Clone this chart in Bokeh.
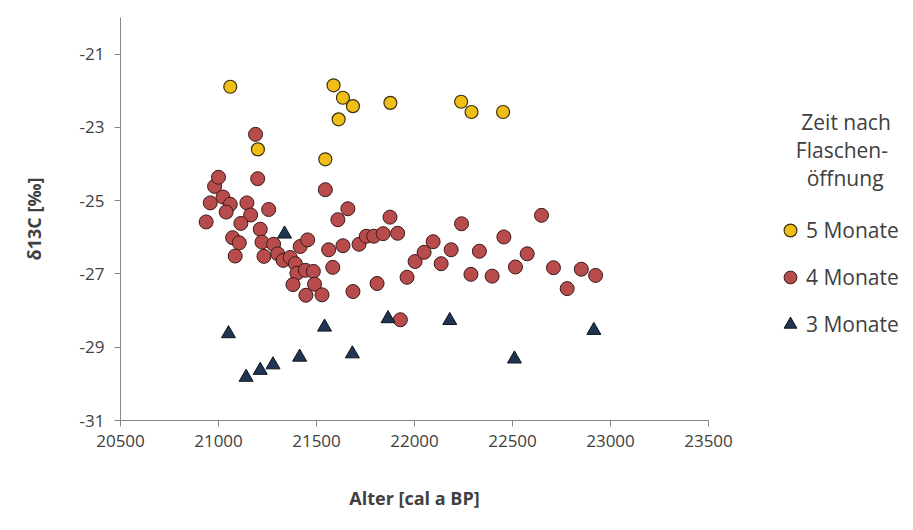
from bokeh.plotting import figure
from bokeh.models import Range1d, Legend, LegendItem, FixedTicker
from bokeh.embed import file_html
from bokeh.resources import INLINE

# ---- data ----
x_ticks = [20500, 21000, 21500, 22000, 22500, 23000, 23500]
y_ticks = [-31, -29, -27, -25, -23, -21]

m5_age = [21060, 21587, 21635, 21686, 21613, 21877, 21201, 21545, 22238, 22291, 22452]
m5_d13c = [-21.89, -21.85, -22.19, -22.42, -22.78, -22.33, -23.60, -23.87, -22.30, -22.58, -22.58]

m4_age = [20937, 20958, 20980, 21000, 21023, 21060, 21039, 21145, 21164, 21256,
          21114, 21072, 21106, 21213, 21222, 21085, 21232, 21281, 21302, 21330,
          21366, 21392, 21400, 21443, 21484, 21380, 21490, 21446, 21528, 21417,
          21455, 21545, 21609, 21660, 21562, 21635, 21717, 21754, 21792, 21840,
          21914, 21875, 21583, 21686, 21809, 21962, 21928, 22003, 22049, 22095,
          22136, 22187, 22240, 22331, 22288, 22396, 22456, 22515, 22575, 22648,
          22709, 22851, 22924, 22779, 21189, 21200]
m4_d13c = [-25.58, -25.06, -24.61, -24.36, -24.90, -25.10, -25.31, -25.06, -25.39, -25.24,
           -25.62, -26.01, -26.15, -25.78, -26.13, -26.51, -26.52, -26.19, -26.45, -26.63,
           -26.55, -26.72, -26.98, -26.90, -26.93, -27.29, -27.28, -27.58, -27.57, -26.25,
           -26.07, -24.70, -25.52, -25.22, -26.34, -26.23, -26.19, -25.97, -25.97, -25.90,
           -25.89, -25.45, -26.82, -27.48, -27.26, -27.09, -28.25, -26.66, -26.41, -26.12,
           -26.72, -26.34, -25.63, -26.38, -27.01, -27.06, -25.99, -26.81, -26.45, -25.40,
           -26.83, -26.87, -27.04, -27.40, -23.19, -24.40]

m3_age = [21051, 21541, 21865, 22180, 22915, 21141, 21213, 21278, 21414, 21683, 22510, 21337]
m3_d13c = [-28.63, -28.45, -28.22, -28.27, -28.54, -29.82, -29.63, -29.48, -29.27, -29.18, -29.32, -25.91]

series_names = ["5 Monate", "4 Monate", "3 Monate"]
legend_title_lines = ["Zeit nach", "Flaschen-", "öffnung"]

FONT = "Open Sans"
TXT = "#404040"
AX = "#868686"
NB = "\u00a0"

# centre the title lines over the legend with non-breaking spaces
title_pad = [5, 4, 6]
legend_title = "\n".join(NB * n + t for n, t in zip(title_pad, legend_title_lines))

p = figure(frame_width=588, frame_height=403,
           min_border_left=120, min_border_right=190,
           min_border_top=17, min_border_bottom=100,
           x_range=Range1d(20500, 23500), y_range=Range1d(-31, -20),
           output_backend="svg", toolbar_location=None)

p.background_fill_color = "white"
p.border_fill_color = "white"
p.outline_line_color = None
p.xgrid.visible = False
p.ygrid.visible = False

for ax in (p.xaxis[0], p.yaxis[0]):
    ax.axis_line_color = AX
    ax.major_tick_line_color = AX
    ax.minor_tick_line_color = None
    ax.major_tick_in = 0
    ax.major_tick_out = 6
    ax.major_label_text_font = FONT
    ax.major_label_text_font_size = "17px"
    ax.major_label_text_color = TXT
    ax.axis_label_text_font = FONT
    ax.axis_label_text_font_size = "18px"
    ax.axis_label_text_font_style = "bold"
    ax.axis_label_text_color = TXT

p.xaxis.ticker = FixedTicker(ticks=x_ticks)
p.yaxis.ticker = FixedTicker(ticks=y_ticks)
p.yaxis.major_label_overrides = {t: str(t) for t in y_ticks}
p.xaxis.major_label_overrides = {t: str(t) for t in x_ticks}
p.xaxis.axis_label = "Alter [cal a BP]"
p.yaxis.axis_label = "δ13C [‰]"
p.xaxis.major_label_standoff = 8
p.yaxis.major_label_standoff = 10
p.xaxis.axis_label_standoff = 36
p.yaxis.axis_label_standoff = 31

r4 = p.scatter(m4_age, m4_d13c, marker="circle", size=14,
               fill_color="#B84C4C", line_color="#3A1A1A", line_width=1)
r5 = p.scatter(m5_age, m5_d13c, marker="circle", size=13,
               fill_color="#F0BE14", line_color="#3A3010", line_width=1.2)
r3 = p.scatter(m3_age, m3_d13c, marker="triangle", size=14,
               fill_color="#1F3552", line_color="#10151F", line_width=1)

legend = Legend(items=[LegendItem(label=series_names[0], renderers=[r5]),
                       LegendItem(label=series_names[1], renderers=[r4]),
                       LegendItem(label=series_names[2], renderers=[r3])],
                location=(66, 80), orientation="vertical",
                title=legend_title, title_location="above",
                title_text_font=FONT, title_text_font_size="21px",
                title_text_font_style="normal", title_text_color=TXT,
                title_text_line_height=1.5,
                title_standoff=22,
                padding=0, margin=0, spacing=15,
                glyph_width=32, glyph_height=32, label_height=32,
                label_standoff=0,
                label_text_font=FONT, label_text_font_size="21px",
                label_text_color=TXT,
                border_line_color=None, background_fill_alpha=0)
p.add_layout(legend, "right")

open("out.html", "w").write(file_html(p, INLINE))
